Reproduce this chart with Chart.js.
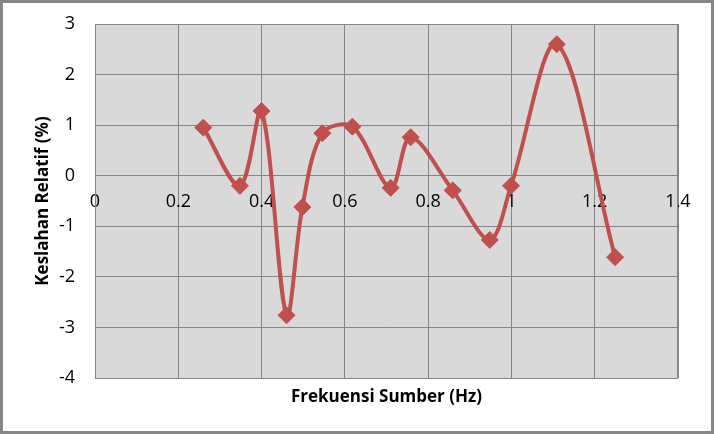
<!DOCTYPE html>
<html>
<head>
<meta charset="utf-8">
<script src="https://cdn.jsdelivr.net/npm/chart.js@4/dist/chart.umd.min.js"></script>
<style>
  html, body { margin: 0; padding: 0; background: #fff; }
  #wrap { width: 714px; height: 434px; }
</style>
</head>
<body>
<div id="wrap"><canvas id="chart" width="714" height="434"></canvas></div>
<script>
// values
const frequency = [0.26, 0.348, 0.40, 0.46, 0.498, 0.546, 0.618, 0.71, 0.758, 0.859, 0.948, 0.999, 1.109, 1.249];
const relativeError = [0.95, -0.2, 1.28, -2.76, -0.62, 0.84, 0.97, -0.24, 0.76, -0.29, -1.27, -0.2, 2.6, -1.61];

const xTitle = 'Frekuensi Sumber (Hz)';
const yTitle = 'Keslahan Relatif (%)';

const points = frequency.map((f, i) => ({ x: f, y: relativeError[i] }));

const fontFamily = '"Open Sans", "Liberation Sans", sans-serif';

// gray plot area and outer frame, like the Excel chart
const frame = {
  id: 'frame',
  beforeDraw(chart) {
    const { ctx, chartArea: a, width, height } = chart;
    ctx.save();
    ctx.fillStyle = '#D9D9D9';
    ctx.fillRect(a.left, a.top, a.right - a.left, a.bottom - a.top);
    ctx.strokeStyle = '#868686';
    ctx.lineWidth = 3;
    ctx.strokeRect(1.5, 1.5, width - 3, height - 3);
    ctx.restore();
  },
  afterDatasetsDraw(chart) {
    const { ctx, chartArea: a } = chart;
    ctx.save();
    ctx.strokeStyle = '#868686';
    ctx.lineWidth = 1;
    ctx.strokeRect(a.left + 0.5, a.top + 0.5, a.right - a.left - 1, a.bottom - a.top);
    ctx.restore();
  }
};

// keep the label overhang from pushing the plot area around
function noOverhang(scale) {
  scale.paddingTop = 0;
  scale.paddingBottom = 0;
}

new Chart(document.getElementById('chart').getContext('2d'), {
  type: 'scatter',
  data: {
    datasets: [{
      data: points,
      showLine: true,
      tension: 0.33,
      borderColor: '#C0504D',
      backgroundColor: '#C0504D',
      borderWidth: 4,
      pointStyle: 'rectRot',
      pointRadius: 8.5,
      pointHoverRadius: 8.5,
      pointBorderWidth: 1,
      xAxisID: 'x',
      yAxisID: 'y'
    }]
  },
  options: {
    responsive: false,
    animation: false,
    layout: { padding: { top: 24, right: 36, bottom: 0, left: 24 } },
    plugins: {
      legend: { display: false },
      tooltip: { enabled: false }
    },
    scales: {
      x: {
        type: 'linear',
        position: 'bottom',
        min: 0,
        max: 1.4,
        ticks: { stepSize: 0.2, display: false },
        grid: { color: '#868686', lineWidth: 1, drawTicks: false },
        border: { display: false },
        title: {
          display: true,
          text: xTitle,
          color: '#000',
          font: { family: fontFamily, size: 17, weight: 'bold' },
          padding: { top: 0, bottom: 27 }
        },
        afterFit(scale) { scale.height = 56; }
      },
      // tick labels sit on the zero line, as in the reference
      xLabels: {
        type: 'linear',
        axis: 'x',
        position: { y: 0 },
        min: 0,
        max: 1.4,
        grid: { display: false, drawTicks: false },
        border: { display: false },
        ticks: {
          stepSize: 0.2,
          padding: 15,
          color: '#000',
          font: { family: fontFamily, size: 18 },
          callback: v => String(Math.round(v * 10) / 10)
        },
        afterFit: noOverhang
      },
      y: {
        min: -4,
        max: 3,
        ticks: {
          stepSize: 1,
          padding: 20,
          color: '#000',
          font: { family: fontFamily, size: 18 }
        },
        grid: { color: '#868686', lineWidth: 1, drawTicks: false },
        border: { display: false },
        title: {
          display: true,
          text: yTitle,
          color: '#000',
          font: { family: fontFamily, size: 17, weight: 'bold' },
          padding: { top: 9, bottom: 0 }
        },
        afterFit(scale) {
          scale.width = 71;
          noOverhang(scale);
        }
      }
    }
  },
  plugins: [frame]
});
</script>
</body>
</html>
